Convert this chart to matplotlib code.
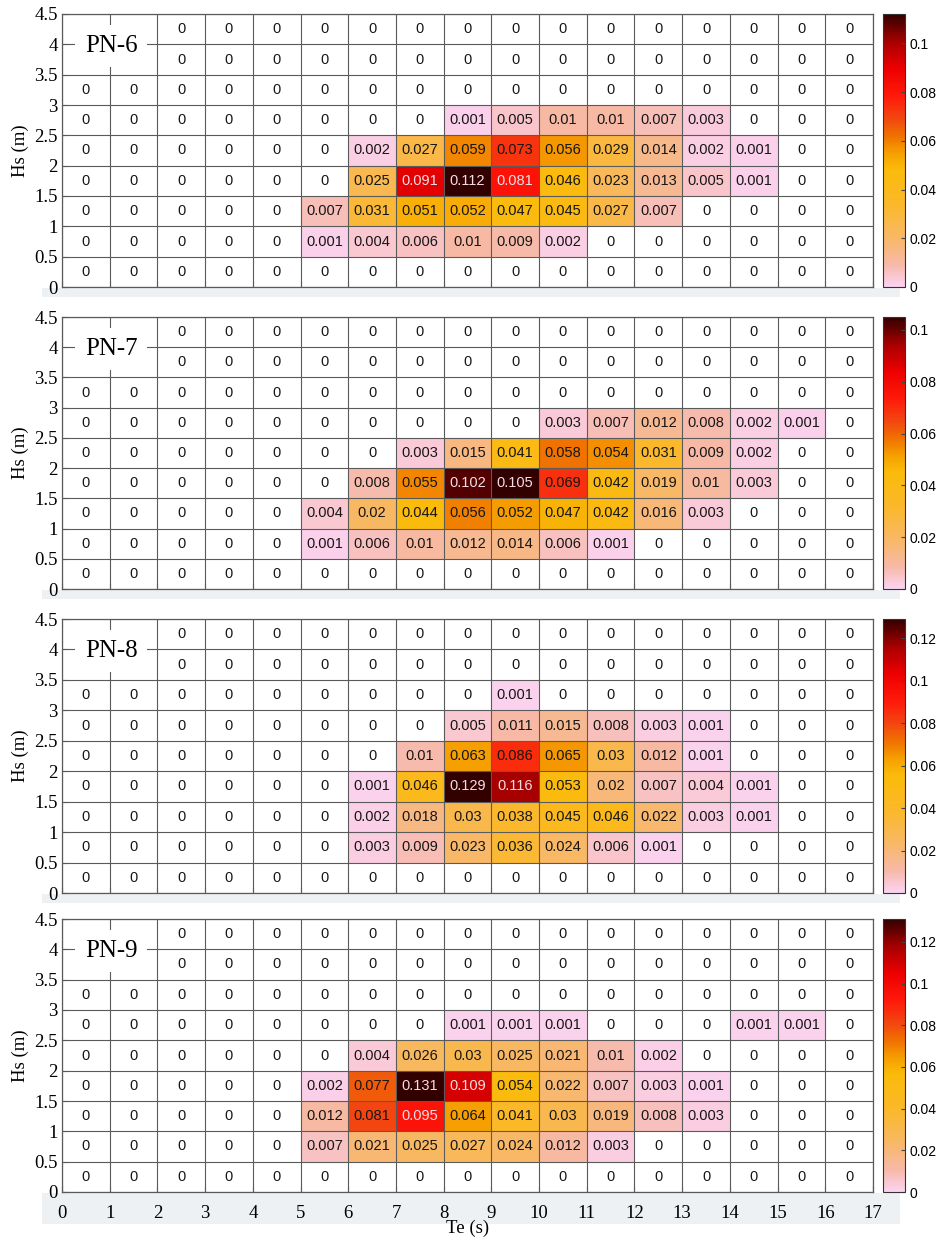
import numpy as np
import matplotlib
matplotlib.use("Agg")
import matplotlib.pyplot as plt
from matplotlib.colors import LinearSegmentedColormap
from matplotlib.patches import Rectangle

# Te bins (s) and Hs bins (m)
te_edges = np.arange(0, 18, 1)
hs_edges = np.arange(0, 5.0, 0.5)
nan = np.nan

# rows listed from top (Hs 4-4.5) to bottom (Hs 0-0.5); nan = hidden under the label
pn6 = [
    [nan, nan, 0, 0, 0, 0, 0, 0, 0, 0, 0, 0, 0, 0, 0, 0, 0],
    [nan, nan, 0, 0, 0, 0, 0, 0, 0, 0, 0, 0, 0, 0, 0, 0, 0],
    [0, 0, 0, 0, 0, 0, 0, 0, 0, 0, 0, 0, 0, 0, 0, 0, 0],
    [0, 0, 0, 0, 0, 0, 0, 0, 0.001, 0.005, 0.01, 0.01, 0.007, 0.003, 0, 0, 0],
    [0, 0, 0, 0, 0, 0, 0.002, 0.027, 0.059, 0.073, 0.056, 0.029, 0.014, 0.002, 0.001, 0, 0],
    [0, 0, 0, 0, 0, 0, 0.025, 0.091, 0.112, 0.081, 0.046, 0.023, 0.013, 0.005, 0.001, 0, 0],
    [0, 0, 0, 0, 0, 0.007, 0.031, 0.051, 0.052, 0.047, 0.045, 0.027, 0.007, 0, 0, 0, 0],
    [0, 0, 0, 0, 0, 0.001, 0.004, 0.006, 0.01, 0.009, 0.002, 0, 0, 0, 0, 0, 0],
    [0, 0, 0, 0, 0, 0, 0, 0, 0, 0, 0, 0, 0, 0, 0, 0, 0],
]
pn7 = [
    [nan, nan, 0, 0, 0, 0, 0, 0, 0, 0, 0, 0, 0, 0, 0, 0, 0],
    [nan, nan, 0, 0, 0, 0, 0, 0, 0, 0, 0, 0, 0, 0, 0, 0, 0],
    [0, 0, 0, 0, 0, 0, 0, 0, 0, 0, 0, 0, 0, 0, 0, 0, 0],
    [0, 0, 0, 0, 0, 0, 0, 0, 0, 0, 0.003, 0.007, 0.012, 0.008, 0.002, 0.001, 0],
    [0, 0, 0, 0, 0, 0, 0, 0.003, 0.015, 0.041, 0.058, 0.054, 0.031, 0.009, 0.002, 0, 0],
    [0, 0, 0, 0, 0, 0, 0.008, 0.055, 0.102, 0.105, 0.069, 0.042, 0.019, 0.01, 0.003, 0, 0],
    [0, 0, 0, 0, 0, 0.004, 0.02, 0.044, 0.056, 0.052, 0.047, 0.042, 0.016, 0.003, 0, 0, 0],
    [0, 0, 0, 0, 0, 0.001, 0.006, 0.01, 0.012, 0.014, 0.006, 0.001, 0, 0, 0, 0, 0],
    [0, 0, 0, 0, 0, 0, 0, 0, 0, 0, 0, 0, 0, 0, 0, 0, 0],
]
pn8 = [
    [nan, nan, 0, 0, 0, 0, 0, 0, 0, 0, 0, 0, 0, 0, 0, 0, 0],
    [nan, nan, 0, 0, 0, 0, 0, 0, 0, 0, 0, 0, 0, 0, 0, 0, 0],
    [0, 0, 0, 0, 0, 0, 0, 0, 0, 0.001, 0, 0, 0, 0, 0, 0, 0],
    [0, 0, 0, 0, 0, 0, 0, 0, 0.005, 0.011, 0.015, 0.008, 0.003, 0.001, 0, 0, 0],
    [0, 0, 0, 0, 0, 0, 0, 0.01, 0.063, 0.086, 0.065, 0.03, 0.012, 0.001, 0, 0, 0],
    [0, 0, 0, 0, 0, 0, 0.001, 0.046, 0.129, 0.116, 0.053, 0.02, 0.007, 0.004, 0.001, 0, 0],
    [0, 0, 0, 0, 0, 0, 0.002, 0.018, 0.03, 0.038, 0.045, 0.046, 0.022, 0.003, 0.001, 0, 0],
    [0, 0, 0, 0, 0, 0, 0.003, 0.009, 0.023, 0.036, 0.024, 0.006, 0.001, 0, 0, 0, 0],
    [0, 0, 0, 0, 0, 0, 0, 0, 0, 0, 0, 0, 0, 0, 0, 0, 0],
]
pn9 = [
    [nan, nan, 0, 0, 0, 0, 0, 0, 0, 0, 0, 0, 0, 0, 0, 0, 0],
    [nan, nan, 0, 0, 0, 0, 0, 0, 0, 0, 0, 0, 0, 0, 0, 0, 0],
    [0, 0, 0, 0, 0, 0, 0, 0, 0, 0, 0, 0, 0, 0, 0, 0, 0],
    [0, 0, 0, 0, 0, 0, 0, 0, 0.001, 0.001, 0.001, 0, 0, 0, 0.001, 0.001, 0],
    [0, 0, 0, 0, 0, 0, 0.004, 0.026, 0.03, 0.025, 0.021, 0.01, 0.002, 0, 0, 0, 0],
    [0, 0, 0, 0, 0, 0.002, 0.077, 0.131, 0.109, 0.054, 0.022, 0.007, 0.003, 0.001, 0, 0, 0],
    [0, 0, 0, 0, 0, 0.012, 0.081, 0.095, 0.064, 0.041, 0.03, 0.019, 0.008, 0.003, 0, 0, 0],
    [0, 0, 0, 0, 0, 0.007, 0.021, 0.025, 0.027, 0.024, 0.012, 0.003, 0, 0, 0, 0, 0],
    [0, 0, 0, 0, 0, 0, 0, 0, 0, 0, 0, 0, 0, 0, 0, 0, 0],
]
panel_names = ["PN-6", "PN-7", "PN-8", "PN-9"]
panels = [pn6, pn7, pn8, pn9]
hs_ticks = [0, 0.5, 1, 1.5, 2, 2.5, 3, 3.5, 4, 4.5]
hs_tick_labels = ["0", "0.5", "1", "1.5", "2", "2.5", "3", "3.5", "4", "4.5"]
te_ticks = list(range(0, 18))

cmap = LinearSegmentedColormap.from_list("pinkhot", [
    (0.00, "#fbd3f2"),
    (0.08, "#f7b9a8"),
    (0.18, "#f8b866"),
    (0.30, "#fbb82a"),
    (0.43, "#fbbb0a"),
    (0.49, "#f5a000"),
    (0.55, "#f07400"),
    (0.62, "#f24510"),
    (0.70, "#ff1a0a"),
    (0.80, "#ee0000"),
    (0.90, "#a80000"),
    (1.00, "#330000"),
])
cmap.set_bad("white")

SERIF = "Liberation Serif"
SANS = "Liberation Sans"
GRID = "#5a5a5a"

fig = plt.figure(figsize=(9.41, 12.42), dpi=100)

# axes boxes in pixels from the top: (top, bottom)
rows_px = [(14, 287), (317, 589), (619, 893), (919, 1192)]
H = 1242.0
W = 941.0
ax_left, ax_right = 62, 873
cb_left, cb_right = 883, 905

for k, (name, data) in enumerate(zip(panel_names, panels)):
    top, bot = rows_px[k]
    # light strip under each panel like the screenshot
    fig.patches.append(Rectangle((42 / W, 1 - (bot + 10) / H), (900 - 42) / W, 9 / H,
                                 transform=fig.transFigure, fc="#eef1f4", ec="none", zorder=-5))
    ax = fig.add_axes([ax_left / W, 1 - bot / H, (ax_right - ax_left) / W, (bot - top) / H])
    cax = fig.add_axes([cb_left / W, 1 - bot / H, (cb_right - cb_left) / W, (bot - top) / H])
    ax.patch.set_alpha(0)

    z = np.array(data, dtype=float)[::-1]  # bottom row first
    vmax = np.nanmax(z)
    zm = np.ma.masked_where(~(z > 0), z)
    ax.add_patch(Rectangle((0, 0), 17, 4.5, fc="white", ec="none", zorder=-1))
    mesh = ax.pcolormesh(te_edges, hs_edges, zm, cmap=cmap, vmin=0, vmax=vmax)

    for i in range(z.shape[0]):
        for j in range(z.shape[1]):
            v = z[i, j]
            if np.isnan(v):
                continue
            color = "#f3dde6" if v / vmax > 0.7 else "#161616"
            ax.text(j + 0.5, i * 0.5 + 0.25, f"{v:g}", ha="center", va="center",
                    fontsize=10.5, family=SANS, color=color)

    ax.set_xlim(0, 17)
    ax.set_ylim(0, 4.5)
    ax.set_xticks(te_ticks)
    ax.set_yticks(hs_ticks)
    ax.set_yticklabels(hs_tick_labels, family=SERIF, fontsize=13.5)
    ax.grid(True, color=GRID, lw=0.8)
    ax.set_axisbelow(False)
    ax.tick_params(direction="in", length=4, color=GRID, pad=3)
    ax.tick_params(axis="x", pad=9)
    for s in ax.spines.values():
        s.set_color(GRID)
        s.set_linewidth(0.9)
    if k == 3:
        ax.set_xticklabels([str(t) for t in te_ticks], family=SERIF, fontsize=13.5)
        ax.set_xlabel("Te (s)", family=SERIF, fontsize=13.5, labelpad=-1)
    else:
        ax.set_xticklabels([])
    ax.set_ylabel("Hs (m)", family=SERIF, fontsize=13.5, labelpad=4)

    ax.text(1.03, 3.97, name, ha="center", va="center", fontsize=18, family=SERIF,
            bbox=dict(boxstyle="square,pad=0.4", fc="white", ec="none"), zorder=5)

    cb = fig.colorbar(mesh, cax=cax)
    ticks = np.arange(0, vmax + 1e-9, 0.02)
    cb.set_ticks(ticks)
    cb.set_ticklabels([f"{t:g}" for t in np.round(ticks, 2)])
    cb.ax.tick_params(labelsize=10, length=3, direction="in", color="#444")
    for lab in cb.ax.get_yticklabels():
        lab.set_family(SANS)
    cb.outline.set_edgecolor("#333")
    cb.outline.set_linewidth(0.8)

fig.patches.append(Rectangle((42 / W, 1 - 1224 / H), (900 - 42) / W, 28 / H,
                             transform=fig.transFigure, fc="#eef1f4", ec="none", zorder=-5))

fig.savefig("out.png", dpi=100)
